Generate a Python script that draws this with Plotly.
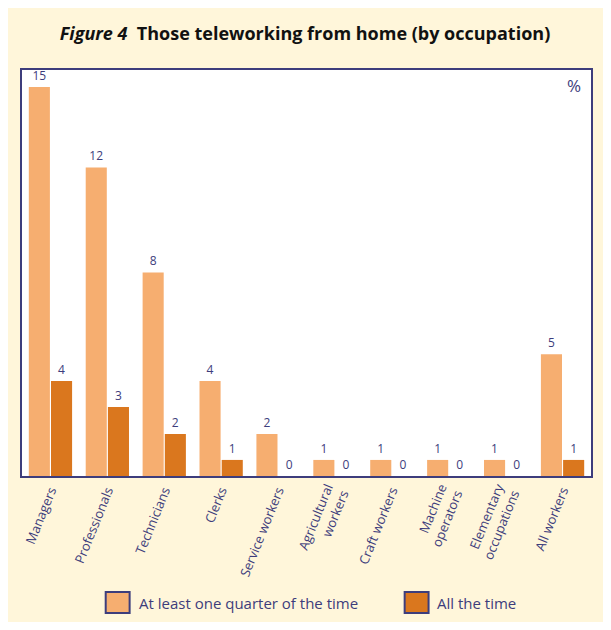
import plotly.graph_objects as go

categories = ["Managers", "Professionals", "Technicians", "Clerks", "Service workers",
              "Agricultural<br>workers", "Craft workers", "Machine<br>operators",
              "Elementary<br>occupations", "All workers"]
quarter_values = [15.0, 11.9, 7.85, 3.66, 1.62, 0.62, 0.62, 0.62, 0.62, 4.7]
quarter_labels = ["15", "12", "8", "4", "2", "1", "1", "1", "1", "5"]
all_values = [3.66, 2.66, 1.62, 0.62, 0, 0, 0, 0, 0, 0.62]
all_labels = ["4", "3", "2", "1", "0", "0", "0", "0", "0", "1"]
series_names = ["At least one quarter of the time", "All the time"]

OFF = 8  # browser default body margin
W, H = 611 - 2 * OFF, 630 - 2 * OFF
# target page pixel positions, converted to figure pixels
L, R, T, B = 22 - OFF, 593 - OFF, 70 - OFF, 476 - OFF
NAVY = "#3d3d7c"
LIGHT = "#F6AE70"
DARK = "#DA771E"
CREAM = "#FFF6DA"
FONT = "Open Sans"


def px(x):
    return (x - OFF - L) / (R - L)


def py(y):
    return (B - (y - OFF)) / (B - T)


fig = go.Figure()
fig.add_trace(go.Bar(x=categories, y=quarter_values, name=series_names[0],
                     marker=dict(color=LIGHT, line=dict(width=0)),
                     text=quarter_labels, textposition="outside",
                     textfont=dict(color=NAVY, size=12, family=FONT), cliponaxis=False))
fig.add_trace(go.Bar(x=categories, y=all_values, name=series_names[1],
                     marker=dict(color=DARK, line=dict(width=0)),
                     text=all_labels, textposition="outside",
                     textfont=dict(color=NAVY, size=12, family=FONT), cliponaxis=False))

shapes = []
annotations = []
legend_items = [(106, 130, 137, series_names[0], LIGHT), (406, 430, 436, series_names[1], DARK)]
for x0, x1, xt, name, col in legend_items:
    shapes.append(dict(type="rect", xref="paper", yref="paper", x0=px(x0), x1=px(x1),
                       y0=py(613), y1=py(592), fillcolor=col, line=dict(color=NAVY, width=2)))
    annotations.append(dict(xref="paper", yref="paper", x=px(xt), y=py(603), text=name,
                            showarrow=False, xanchor="left", yanchor="middle",
                            font=dict(color=NAVY, size=15, family=FONT)))
annotations.append(dict(xref="paper", yref="paper", x=px(576), y=py(86), text="%",
                        showarrow=False, xanchor="center", yanchor="middle",
                        font=dict(color=NAVY, size=17, family=FONT)))

fig.update_layout(
    width=W, height=H,
    margin=dict(l=L, r=W - R, t=T, b=H - B),
    paper_bgcolor=CREAM, plot_bgcolor="white",
    barmode="group", bargap=0.22, bargroupgap=0.05,
    showlegend=False,
    title=dict(text="<b><i>Figure 4</i>  Those teleworking from home (by occupation)</b>",
               x=(305 - OFF) / W, xref="container", y=1 - (34 - OFF) / H, yref="container",
               xanchor="center", yanchor="middle",
               font=dict(size=18, color="#111111", family=FONT)),
    shapes=shapes, annotations=annotations,
    font=dict(family=FONT, color=NAVY),
)
fig.update_xaxes(showline=True, mirror=True, linecolor=NAVY, linewidth=2,
                 ticks="", tickangle=-68, tickfont=dict(size=13, color=NAVY, family=FONT),
                 showgrid=False)
fig.update_yaxes(range=[0, 15.66], showline=True, mirror=True, linecolor=NAVY, linewidth=2,
                 showticklabels=False, ticks="", showgrid=False, zeroline=False)

fig.write_html("out.html")
